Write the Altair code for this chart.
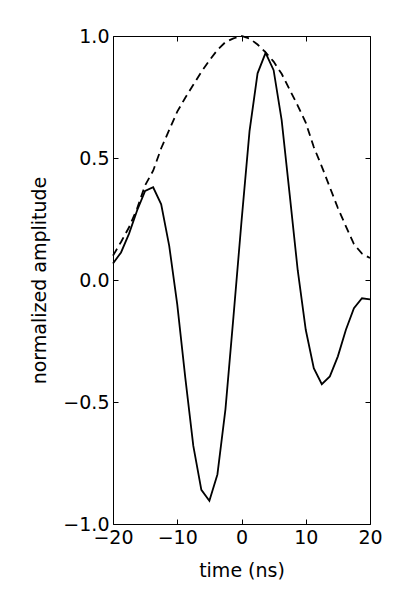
import altair as alt
import pandas as pd

time_ns = [-20.0, -18.75, -17.5, -16.25, -15.0, -13.75, -12.5, -11.25, -10.0,
           -8.75, -7.5, -6.25, -5.0, -3.75, -2.5, -1.25, 0.0, 1.25, 2.5, 3.75,
           5.0, 6.25, 7.5, 8.75, 10.0, 11.25, 12.5, 13.75, 15.0, 16.25, 17.5,
           18.75, 20.0]

waveform = [0.068, 0.113, 0.19, 0.285, 0.365, 0.38, 0.31, 0.14, -0.10,
            -0.40, -0.68, -0.86, -0.905, -0.797, -0.53, -0.15, 0.24, 0.61,
            0.847, 0.931, 0.86, 0.655, 0.35, 0.04, -0.204, -0.361, -0.427,
            -0.395, -0.313, -0.204, -0.116, -0.075, -0.079]

envelope = [0.10, 0.156, 0.216, 0.293, 0.388, 0.448, 0.54, 0.615, 0.69,
            0.747, 0.80, 0.853, 0.90, 0.943, 0.975, 0.99, 1.0, 0.99, 0.965,
            0.933, 0.895, 0.845, 0.78, 0.715, 0.645, 0.545, 0.465, 0.38,
            0.295, 0.22, 0.147, 0.108, 0.09]

x_ticks = [-20, -10, 0, 10, 20]
y_ticks = [-1.0, -0.5, 0.0, 0.5, 1.0]

df = pd.DataFrame({"t": time_ns, "amp": waveform, "env": envelope})

FONT = "DejaVu Sans"
xscale = alt.Scale(domain=[-20, 20], nice=False, zero=False)
yscale = alt.Scale(domain=[-1, 1], nice=False, zero=False)

common = dict(grid=False, domainColor="black", domainWidth=1, tickColor="black",
              tickWidth=1, tickSize={"expr": "-5"}, labelFont=FONT, labelFontSize=19,
              labelColor="black", titleFont=FONT, titleFontSize=19,
              titleColor="black", titleFontWeight="normal", labelFlush=False,
              labelOverlap=False)

solid = alt.Chart(df).mark_line(color="black", strokeWidth=1.8).encode(
    x=alt.X("t:Q", scale=xscale,
            axis=alt.Axis(orient="bottom", values=x_ticks, format="d",
                          title="time (ns)", labelPadding=9, titlePadding=14,
                          **common)),
    y=alt.Y("amp:Q", scale=yscale,
            axis=alt.Axis(orient="left", values=y_ticks, format=".1f",
                          title="normalized amplitude", labelPadding=9,
                          titlePadding=13, **common)),
)

dashed = alt.Chart(df).mark_line(color="black", strokeWidth=1.8,
                                 strokeDash=[8, 5]).encode(
    x=alt.X("t:Q", scale=xscale,
            axis=alt.Axis(orient="top", values=x_ticks, labels=False, title=None,
                          **common)),
    y=alt.Y("env:Q", scale=yscale,
            axis=alt.Axis(orient="right", values=y_ticks, labels=False, title=None,
                          **common)),
)

chart = alt.layer(solid, dashed).resolve_axis(
    x="independent", y="independent"
).properties(
    width=257, height=488,
    autosize=alt.AutoSizeParams(type="none"),
    padding={"left": 105, "top": 28, "right": 20, "bottom": 70},
).configure_view(strokeWidth=0)

chart.save("out.html", embed_options={"renderer": "svg", "actions": False})
